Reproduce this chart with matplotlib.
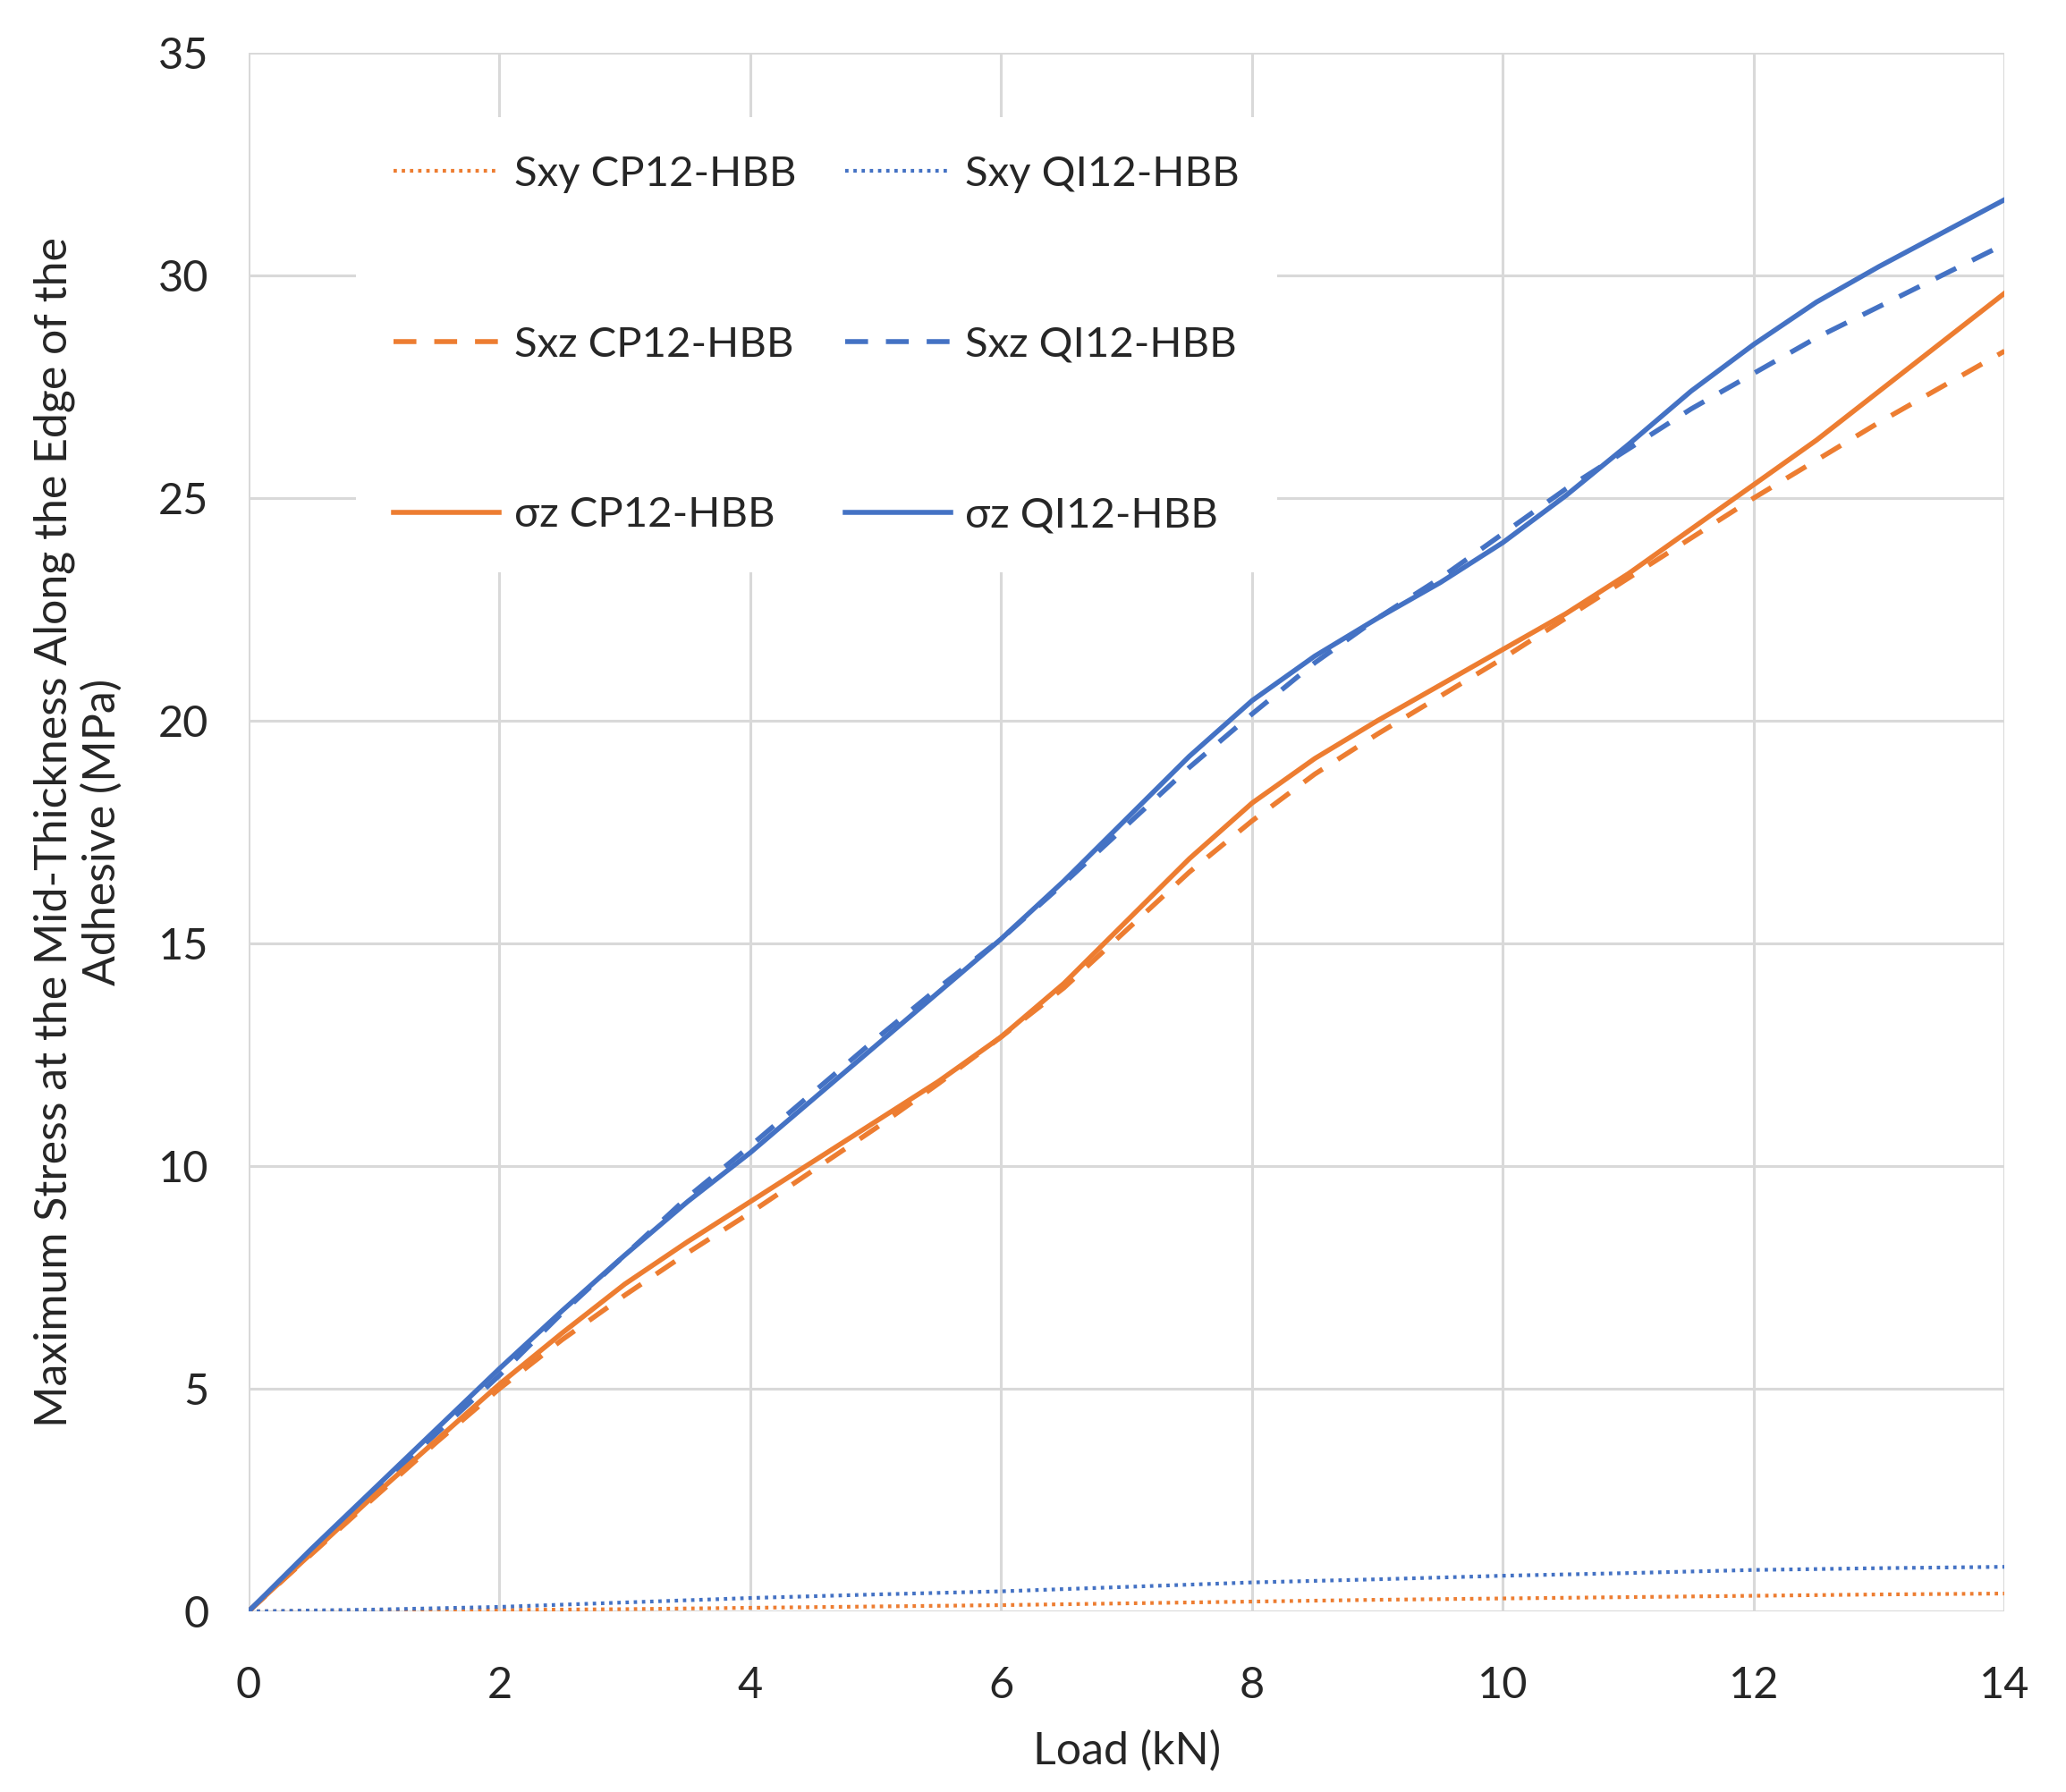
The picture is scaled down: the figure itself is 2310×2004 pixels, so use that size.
import matplotlib
matplotlib.use("Agg")
import matplotlib.pyplot as plt
import numpy as np

plt.rcParams['font.family'] = ['Lato', 'DejaVu Sans']

load_half = [0, 0.5, 1, 1.5, 2, 2.5, 3, 3.5, 4, 4.5, 5, 5.5, 6, 6.5, 7, 7.5,
             8, 8.5, 9, 9.5, 10, 10.5, 11, 11.5, 12, 12.5, 13, 13.5, 14]
sz_qi = [0, 1.4, 2.75, 4.1, 5.45, 6.75, 8.0, 9.2, 10.3, 11.5, 12.7, 13.9, 15.1,
         16.4, 17.8, 19.2, 20.45, 21.45, 22.3, 23.1, 24.0, 25.05, 26.2, 27.4, 28.45,
         29.4, 30.2, 30.95, 31.7]
sxz_qi = [0, 1.35, 2.7, 4.0, 5.3, 6.7, 8.0, 9.3, 10.45, 11.65, 12.85, 14.0, 15.1,
          16.35, 17.65, 18.95, 20.15, 21.3, 22.3, 23.2, 24.2, 25.2, 26.1, 27.0,
          27.8, 28.6, 29.3, 30.0, 30.7]
sz_cp = [0, 1.3, 2.6, 3.85, 5.1, 6.25, 7.35, 8.3, 9.2, 10.1, 11.0, 11.9, 12.9,
         14.1, 15.5, 16.9, 18.15, 19.15, 20.0, 20.8, 21.6, 22.4, 23.3, 24.3, 25.3,
         26.3, 27.4, 28.5, 29.6]
sxz_cp = [0, 1.28, 2.55, 3.8, 5.0, 6.1, 7.1, 8.05, 8.95, 9.9, 10.85, 11.85, 12.9,
          14.0, 15.3, 16.6, 17.75, 18.8, 19.7, 20.55, 21.4, 22.3, 23.2, 24.1,
          25.0, 25.85, 26.7, 27.5, 28.3]

load_int = [0, 1, 2, 3, 4, 5, 6, 7, 8, 9, 10, 11, 12, 13, 14]
sxy_qi = [0, 0.04, 0.1, 0.2, 0.3, 0.38, 0.45, 0.55, 0.65, 0.72, 0.8, 0.86, 0.93, 0.97, 1.0]
sxy_cp = [0, 0.01, 0.03, 0.05, 0.08, 0.11, 0.14, 0.18, 0.22, 0.26, 0.29, 0.32, 0.35, 0.38, 0.4]

xticks = [0, 2, 4, 6, 8, 10, 12, 14]
yticks = [0, 5, 10, 15, 20, 25, 30, 35]

ORANGE = '#ED7D31'
BLUE = '#4472C4'
TXT = '#262626'

fig = plt.figure(figsize=(23.1, 20.04), dpi=100)
ax = fig.add_axes([0.1203, 0.1008, 0.8500, 0.8698])

lw = 4.0
ax.plot(load_int, sxy_cp, color=ORANGE, lw=3.0, linestyle=(0, (0.9, 1.3)), label='Sxy CP12-HBB')
ax.plot(load_int, sxy_qi, color=BLUE, lw=3.0, linestyle=(0, (0.9, 1.3)), label='Sxy QI12-HBB')
ax.plot(load_half, sxz_cp, color=ORANGE, lw=lw, linestyle=(0, (4.6, 3.6)), label='Sxz CP12-HBB')
ax.plot(load_half, sxz_qi, color=BLUE, lw=lw, linestyle=(0, (4.6, 3.6)), label='Sxz QI12-HBB')
ax.plot(load_half, sz_cp, color=ORANGE, lw=lw, label='σz CP12-HBB')
ax.plot(load_half, sz_qi, color=BLUE, lw=lw, label='σz QI12-HBB')

ax.set_xlim(0, 14)
ax.set_ylim(0, 35)
ax.set_xticks(xticks)
ax.set_yticks(yticks)
ax.grid(True, color='#D9D9D9', lw=2.2)
ax.set_axisbelow(True)
for s in ax.spines.values():
    s.set_visible(False)
ax.tick_params(axis='both', length=0, labelsize=35, colors=TXT)
ax.tick_params(axis='x', pad=44)
ax.tick_params(axis='y', pad=32)

ax.set_xlabel('Load (kN)', fontsize=36, color=TXT, labelpad=20)
ax.set_ylabel('Maximum Stress at the Mid-Thickness Along the Edge of the\nAdhesive (MPa)',
              fontsize=36, color=TXT, labelpad=28, linespacing=1.2)

# legend order: row-wise, matplotlib fills column-wise
h, l = ax.get_legend_handles_labels()
order = [0, 2, 4, 1, 3, 5]
leg = ax.legend([h[i] for i in order], [l[i] for i in order], ncol=2,
                loc='upper left', bbox_to_anchor=(0.049, 0.972),
                fontsize=34, frameon=True, facecolor='white', edgecolor='none',
                framealpha=1.0, fancybox=False, handlelength=2.5,
                handletextpad=0.35, columnspacing=1.15, labelspacing=3.15,
                borderpad=0.9)
for t in leg.get_texts():
    t.set_color(TXT)

fig.savefig('out.png', dpi=100)
